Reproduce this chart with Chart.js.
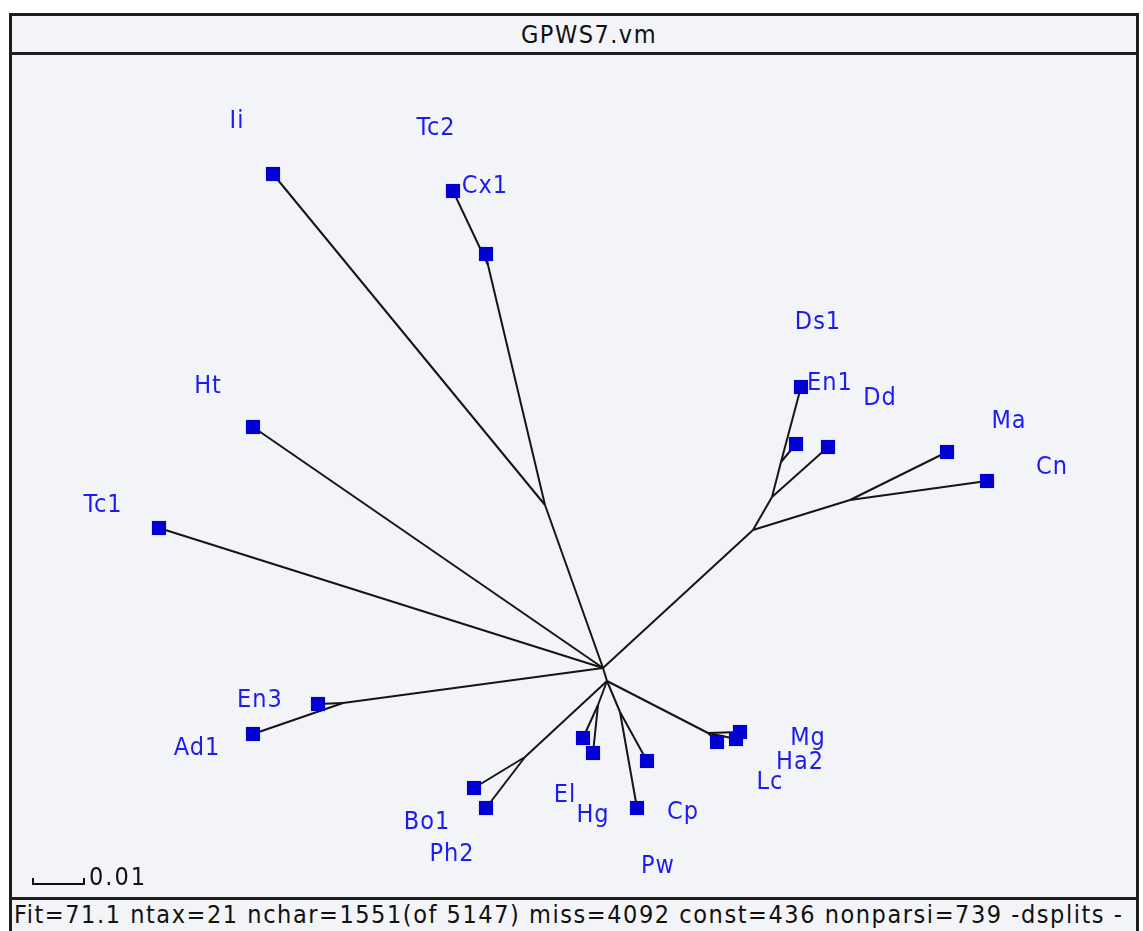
<!DOCTYPE html>
<html lang="en">
<head>
    <meta charset="UTF-8">
    <title>GPWS7.vm</title>
    <script src="https://cdn.jsdelivr.net/npm/chart.js"></script>
    <style>
        body {
            margin: 0;
            background: #fff;
            width: 1143px;
            height: 931px;
            overflow: hidden;
            position: relative;
            font-family: 'DejaVu Sans Condensed', 'DejaVu Sans', sans-serif;
        }
        .frame {
            position: absolute;
            left: 9px;
            top: 13px;
            width: 1124px;
            height: 940px;
            border: 3px solid #1e1e1e;
            background: #f3f4f7;
        }
        .titlebar {
            position: absolute;
            left: 0; right: 0; top: 0;
            height: 36px;
            border-bottom: 3px solid #1e1e1e;
            text-align: center;
            line-height: 38px;
            font-size: 25px;
            letter-spacing: 1.5px;
            padding-left: 30px;
            color: #111;
        }
        .footer {
            position: absolute;
            left: 0; right: 0;
            top: 881px;
            height: 40px;
            border-top: 3px solid #1e1e1e;
            white-space: nowrap;
            overflow: hidden;
            font-size: 25px;
            letter-spacing: 1.55px;
            line-height: 29px;
            padding-left: 2px;
            color: #111;
        }
        #net {
            position: absolute;
            left: 0; top: 0;
            pointer-events: none;
        }
    </style>
</head>
<body>
    <div class="frame">
        <div class="titlebar">GPWS7.vm</div>
        <div class="footer">Fit=71.1 ntax=21 nchar=1551(of 5147) miss=4092 const=436 nonparsi=739 -dsplits -</div>
    </div>
    <canvas id="net" width="1143" height="931"></canvas>

    <script>
    // --- taxa (leaf squares) and where their names sit ---
    const taxa   = ['Ii', 'Cx1', 'Tc2', 'Ht', 'Tc1', 'En3', 'Ad1', 'Bo1', 'Ph2', 'El', 'Hg',
                    'Cp', 'Pw', 'Lc', 'Ha2', 'Mg', 'En1', 'Ds1', 'Dd', 'Ma', 'Cn'];
    const taxonX = [273, 453, 486, 253, 159, 318, 253, 474, 486, 583, 593,
                    647, 637, 717, 736, 740, 801, 796, 828, 947, 987];
    const taxonY = [174, 191, 254, 427, 528, 704, 734, 788, 808, 738, 753,
                    761, 808, 742, 739, 732, 387, 444, 447, 452, 481];
    const labelX = [237, 485, 436, 208, 103, 260, 197, 427, 452, 565, 593,
                    683, 658, 770, 800, 808, 830, 818, 880, 1009, 1052];
    const labelY = [121, 186, 128, 386, 505, 700, 748, 822, 854, 795, 815,
                    812, 866, 782, 762, 738, 383, 322, 398, 421, 467];

    // --- internal split nodes ---
    const splitNodes = ['h1', 'h2', 'jIi', 'jTc', 'jEn', 'jBo', 'jEl', 'jCp', 'jLc', 'jR', 'jMa', 'jDd', 'jEn1'];
    const splitX     = [603, 607, 545, 488, 343, 525, 598, 620, 708, 753, 850, 772, 781];
    const splitY     = [668, 681, 505, 265, 703, 757, 705, 712, 733, 530, 500, 497, 462];

    // --- edges of the network ---
    const edges = [
        ['h1', 'h2'],
        ['Ii', 'jIi'], ['jIi', 'h1'], ['Cx1', 'jTc'], ['Tc2', 'jTc'], ['jTc', 'jIi'],
        ['Ht', 'h1'], ['Tc1', 'h1'],
        ['En3', 'jEn'], ['Ad1', 'jEn'], ['jEn', 'h1'],
        ['Bo1', 'jBo'], ['Ph2', 'jBo'], ['jBo', 'h2'],
        ['El', 'jEl'], ['Hg', 'jEl'], ['jEl', 'h2'],
        ['Cp', 'jCp'], ['Pw', 'jCp'], ['jCp', 'h2'],
        ['Lc', 'jLc'], ['Ha2', 'jLc'], ['Mg', 'jLc'], ['jLc', 'h2'],
        ['jR', 'h1'], ['jMa', 'jR'], ['Ma', 'jMa'], ['Cn', 'jMa'],
        ['jDd', 'jR'], ['Dd', 'jDd'], ['jEn1', 'jDd'], ['En1', 'jEn1'], ['Ds1', 'jEn1']
    ];

    const scaleBarLabel = '0.01';

    // lookup of every node by name
    const pos = {};
    taxa.forEach((t, i) => pos[t] = { x: taxonX[i], y: taxonY[i] });
    splitNodes.forEach((n, i) => pos[n] = { x: splitX[i], y: splitY[i] });

    const edgeSets = edges.map(e => ({
        type: 'scatter',
        data: [pos[e[0]], pos[e[1]]],
        showLine: true,
        borderColor: '#151515',
        borderWidth: 2,
        pointRadius: 0,
        order: 2
    }));

    const leafSet = {
        type: 'scatter',
        data: taxa.map(t => pos[t]),
        pointStyle: 'rect',
        pointRadius: 10,
        pointBackgroundColor: '#0000d2',
        pointBorderWidth: 0,
        order: 1
    };

    // taxon names + scale bar
    const labelPlugin = {
        id: 'taxonLabels',
        afterDatasetsDraw(chart) {
            const ctx = chart.ctx;
            const xs = chart.scales.x, ys = chart.scales.y;
            ctx.save();
            ctx.font = "25px 'DejaVu Sans Condensed', 'DejaVu Sans', sans-serif";
            ctx.letterSpacing = '1px';
            ctx.fillStyle = '#1c1cee';
            ctx.textAlign = 'center';
            ctx.textBaseline = 'middle';
            taxa.forEach((t, i) => {
                ctx.fillText(t, xs.getPixelForValue(labelX[i]), ys.getPixelForValue(labelY[i]));
            });
            // scale bar
            ctx.strokeStyle = '#111';
            ctx.lineWidth = 2;
            ctx.beginPath();
            ctx.moveTo(33, 878);
            ctx.lineTo(33, 884);
            ctx.lineTo(84, 884);
            ctx.lineTo(84, 878);
            ctx.stroke();
            ctx.fillStyle = '#111';
            ctx.letterSpacing = '2px';
            ctx.textAlign = 'left';
            ctx.fillText(scaleBarLabel, 89, 878);
            ctx.restore();
        }
    };

    new Chart(document.getElementById('net'), {
        type: 'scatter',
        data: { datasets: [leafSet, ...edgeSets] },
        options: {
            responsive: false,
            animation: false,
            devicePixelRatio: 1,
            layout: { padding: 0, autoPadding: false },
            plugins: {
                legend: { display: false },
                tooltip: { enabled: false }
            },
            scales: {
                x: { display: false, min: 0, max: 1143 },
                y: { display: false, min: 0, max: 931, reverse: true }
            }
        },
        plugins: [labelPlugin]
    });
    </script>
</body>
</html>
